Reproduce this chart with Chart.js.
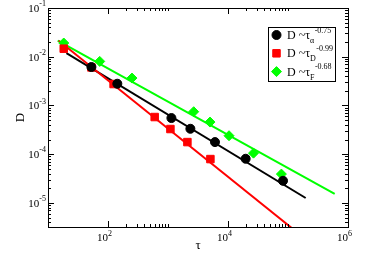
<!DOCTYPE html>
<html lang="en">
<head>
<meta charset="UTF-8">
<title>D versus tau</title>
<script src="https://cdn.jsdelivr.net/npm/chart.js"></script>
<style>
  body { margin: 0; background: #fff; }
  #wrap { width: 372px; height: 258px; }
</style>
</head>
<body>
<div id="wrap"><canvas id="chart" width="372" height="258"></canvas></div>
<script>
// points
const tauAlpha = [52.9, 143, 1140, 2360, 6070, 19700, 82600];
const dAlpha = [6.15e-3, 2.79e-3, 5.51e-4, 3.32e-4, 1.77e-4, 8.05e-5, 2.84e-5];
const tauD = [18.3, 52.9, 124, 600, 1097, 2105, 5090];
const dD = [0.0146, 6.03e-3, 2.75e-3, 5.78e-4, 3.28e-4, 1.77e-4, 7.93e-5];
const tauF = [18.3, 72.8, 251, 2680, 5010, 10400, 26600, 77600];
const dF = [0.0191, 8.02e-3, 3.65e-3, 7.43e-4, 4.56e-4, 2.39e-4, 1.05e-4, 3.9e-5];

// power law fits, start and end
const fitTauAlpha = [20.3, 1.97e5];
const fitDAlpha = [0.0119, 1.26e-5];
const fitTauD = [15.1, 2e5];
const fitDD = [0.0213, 1.77e-6];
const fitTauF = [14.5, 6e5];
const fitDF = [0.0213, 1.54e-5];

const legendSubs = ['α', 'D', 'F'];
const legendExps = ['-0.75', '-0.99', '-0.68'];
const xTickExps = [2, 4, 6];
const yTickExps = [-1, -2, -3, -4, -5];

const SERIF = '"Liberation Serif", "Times New Roman", serif';
const pts = (xs, ys) => xs.map((v, i) => ({ x: v, y: ys[i] }));

const frame = {
  id: 'frame',
  afterDraw(chart) {
    const { ctx, chartArea: a, scales: { x, y } } = chart;
    ctx.save();
    ctx.strokeStyle = '#000';
    ctx.fillStyle = '#000';
    ctx.lineWidth = 1;
    ctx.strokeRect(a.left + 0.5, a.top + 0.5, a.right - a.left, a.bottom - a.top);

    const vtick = (v, len) => {
      const px = Math.round(x.getPixelForValue(v)) + 0.5;
      ctx.beginPath();
      ctx.moveTo(px, a.bottom); ctx.lineTo(px, a.bottom - len);
      ctx.moveTo(px, a.top); ctx.lineTo(px, a.top + len);
      ctx.stroke();
    };
    const htick = (v, len) => {
      const py = Math.round(y.getPixelForValue(v)) + 0.5;
      ctx.beginPath();
      ctx.moveTo(a.left, py); ctx.lineTo(a.left + len, py);
      ctx.moveTo(a.right, py); ctx.lineTo(a.right - len, py);
      ctx.stroke();
    };

    xTickExps.forEach(e => {
      vtick(Math.pow(10, e), 6);
      if (e < 6) for (let m = 2; m <= 10; m++) vtick(m * Math.pow(10, e), 3);
    });
    for (let e = -6; e <= -1; e++) {
      if (Math.pow(10, e) >= y.min) htick(Math.pow(10, e), 6);
      for (let m = 2; m <= 9; m++) {
        const v = m * Math.pow(10, e);
        if (v > y.min && v < y.max) htick(v, 3);
      }
    }

    // tick labels
    ctx.textBaseline = 'middle';
    yTickExps.forEach(e => {
      const py = y.getPixelForValue(Math.pow(10, e));
      const s = String(e);
      ctx.font = '8px ' + SERIF;
      const w2 = ctx.measureText(s).width;
      ctx.font = '11px ' + SERIF;
      const w1 = ctx.measureText('10').width;
      ctx.textAlign = 'left';
      ctx.fillText('10', 46 - w2 - w1, py + 1);
      ctx.font = '8px ' + SERIF;
      ctx.fillText(s, 46 - w2, py - 4);
    });
    xTickExps.forEach(e => {
      const px = x.getPixelForValue(Math.pow(10, e));
      ctx.font = '11px ' + SERIF;
      ctx.textAlign = 'right';
      ctx.fillText('10', px, a.bottom + 11.5);
      ctx.font = '8px ' + SERIF;
      ctx.textAlign = 'left';
      ctx.fillText(String(e), px, a.bottom + 7);
    });

    // axis titles
    ctx.font = '13px ' + SERIF;
    ctx.textAlign = 'center';
    ctx.fillText('τ', (a.left + a.right) / 2, 245.5);
    ctx.save();
    ctx.translate(21, (a.top + a.bottom) / 2);
    ctx.rotate(-Math.PI / 2);
    ctx.fillText('D', 0, 0);
    ctx.restore();

    // legend
    ctx.strokeRect(268.5, 27.5, 67, 54);
    const marks = chart.data.datasets.slice(0, 3);
    marks.forEach((ds, k) => {
      const cy = 35 + k * 18.3;
      ctx.fillStyle = ds.backgroundColor;
      ctx.strokeStyle = ds.borderColor;
      Chart.helpers.drawPoint(ctx, {
        pointStyle: ds.pointStyle, radius: ds.pointRadius, rotation: 0, borderWidth: 1
      }, 276.5, cy);
      ctx.fillStyle = '#000';
      ctx.textAlign = 'left';
      ctx.font = '12px ' + SERIF;
      const base = 'D ~τ';
      ctx.fillText(base, 287, cy + 1);
      const bx = 287 + ctx.measureText(base).width;
      ctx.font = '8px ' + SERIF;
      ctx.fillText(legendSubs[k], bx, cy + 6);
      const sx = bx + ctx.measureText(legendSubs[k]).width + 0.5;
      ctx.fillText(legendExps[k], sx, cy - 4.5);
    });
    ctx.restore();
  }
};

new Chart(document.getElementById('chart'), {
  type: 'scatter',
  data: {
    datasets: [
      { label: 'alpha', data: pts(tauAlpha, dAlpha), pointStyle: 'circle', pointRadius: 4.5,
        backgroundColor: '#000000', borderColor: '#000000', borderWidth: 1 },
      { label: 'D', data: pts(tauD, dD), pointStyle: 'rect', pointRadius: 5.3,
        backgroundColor: '#ff0000', borderColor: '#ff0000', borderWidth: 1 },
      { label: 'F', data: pts(tauF, dF), pointStyle: 'rectRot', pointRadius: 5,
        backgroundColor: '#00ff00', borderColor: '#00ff00', borderWidth: 1 },
      { data: pts(fitTauD, fitDD), showLine: true, pointRadius: 0, borderColor: '#ff0000', borderWidth: 2 },
      { data: pts(fitTauAlpha, fitDAlpha), showLine: true, pointRadius: 0, borderColor: '#000000', borderWidth: 2 },
      { data: pts(fitTauF, fitDF), showLine: true, pointRadius: 0, borderColor: '#00ff00', borderWidth: 2 }
    ]
  },
  options: {
    responsive: false,
    animation: false,
    events: [],
    layout: { padding: { top: 8, right: 24, left: 0, bottom: 0 } },
    plugins: { legend: { display: false }, tooltip: { enabled: false } },
    scales: {
      x: {
        type: 'logarithmic', min: 10, max: 1e6,
        ticks: { display: false }, grid: { display: false }, border: { display: false },
        afterFit: s => { s.height = 31; }
      },
      y: {
        type: 'logarithmic', min: 3.2e-6, max: 0.1,
        ticks: { display: false }, grid: { display: false }, border: { display: false },
        afterFit: s => { s.width = 48; }
      }
    }
  },
  plugins: [frame]
});
</script>
</body>
</html>
